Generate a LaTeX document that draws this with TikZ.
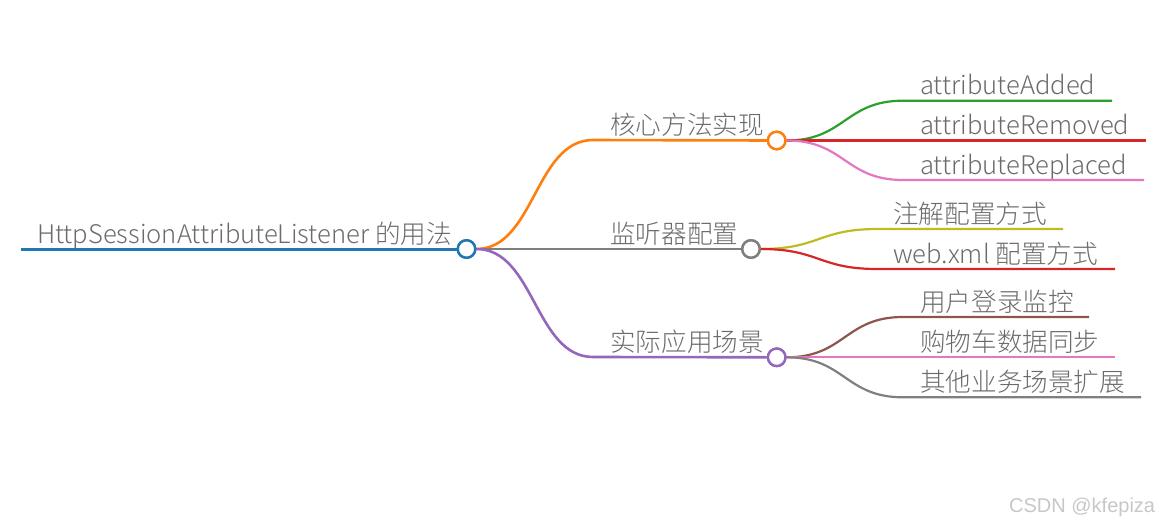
\documentclass[tikz,border=0pt]{standalone}
\usepackage{fontspec}
\setmainfont{Noto Sans CJK SC}[UprightFont={* Light}]
\newfontfamily\wmfont{Liberation Sans}
\definecolor{cblue}{HTML}{1F77B4}
\definecolor{corange}{HTML}{FF7F0E}
\definecolor{cgray}{HTML}{7F7F7F}
\definecolor{cpurple}{HTML}{9467BD}
\definecolor{cgreen}{HTML}{2CA02C}
\definecolor{cred}{HTML}{D62728}
\definecolor{cpink}{HTML}{E377C2}
\definecolor{colive}{HTML}{BCBD22}
\definecolor{cbrown}{HTML}{8C564B}
\definecolor{textgray}{HTML}{6B6B6B}
\begin{document}
\begin{tikzpicture}[x=1pt,y=-1pt,
  b0/.style={line width=3pt},
  b1/.style={line width=2.6pt},
  b2/.style={line width=2.2pt},
  dot/.style={circle, draw, line width=2.4pt, fill=white, minimum size=17.5pt, inner sep=0pt},
  lbl/.style={anchor=base west, text=textgray, font=\fontsize{25.6}{26}\selectfont, inner sep=0pt},
  lk/.style={to path={.. controls +(58,0) and +(-58,0) .. (\tikztotarget)}}]
\useasboundingbox (0,0) rectangle (1165,527);
% root
\coordinate (r0) at (21,249);
\node[lbl] (rt) at (37,243) {HttpSessionAttributeListener 的用法};
\node[dot, draw=cblue] (rc) at (466.5,249) {};
\draw[b0, cblue] (r0) -- (rc.west);
% level 1
\coordinate (a0) at (593,140);
\node[lbl] (at) at (610,134) {核心方法实现};
\node[dot, draw=corange] (ac) at (776.7,140.5) {};
\coordinate (b0) at (593,249);
\node[lbl] (bt) at (610,243) {监听器配置};
\node[dot, draw=cgray] (bc) at (751,249) {};
\coordinate (c0) at (593,357);
\node[lbl] (ct) at (610,351) {实际应用场景};
\node[dot, draw=cpurple] (cc) at (776.7,357.3) {};
% level 2 (a)
\coordinate (a1s) at (903,100.7); \coordinate (a1e) at (1112,100.7);
\node[lbl] (a1t) at (920,95) {attributeAdded};
\coordinate (a2s) at (903,140.5); \coordinate (a2e) at (1146,140.5);
\node[lbl] (a2t) at (920,134.5) {attributeRemoved};
\coordinate (a3s) at (903,180); \coordinate (a3e) at (1144,180);
\node[lbl] (a3t) at (920,174) {attributeReplaced};
% level 2 (b)
\coordinate (b1s) at (877,229); \coordinate (b1e) at (1063,229);
\node[lbl] (b1t) at (893,223) {注解配置方式};
\coordinate (b2s) at (877,269); \coordinate (b2e) at (1115,269);
\node[lbl] (b2t) at (893,263) {web.xml 配置方式};
% level 2 (c)
\coordinate (c1s) at (903,317); \coordinate (c1e) at (1089,317);
\node[lbl] (c1t) at (920,311) {用户登录监控};
\coordinate (c2s) at (903,357.3); \coordinate (c2e) at (1115,357.3);
\node[lbl] (c2t) at (920,351.3) {购物车数据同步};
\coordinate (c3s) at (903,397.3); \coordinate (c3e) at (1141,397.3);
\node[lbl] (c3t) at (920,391.3) {其他业务场景扩展};
% connectors
\draw[b2, cgreen] (ac.east) to[lk] (a1s) -- (a1e);
\draw[b2, cred] (ac.east) to[lk] (a2s) -- (a2e);
\draw[b2, cpink] (ac.east) to[lk] (a3s) -- (a3e);
\draw[b2, colive] (bc.east) to[lk] (b1s) -- (b1e);
\draw[b2, cred] (bc.east) to[lk] (b2s) -- (b2e);
\draw[b2, cbrown] (cc.east) to[lk] (c1s) -- (c1e);
\draw[b2, cpink] (cc.east) to[lk] (c2s) -- (c2e);
\draw[b2, cgray] (cc.east) to[lk] (c3s) -- (c3e);
\draw[b1, corange] (rc.east) to[lk] (a0) -- (ac.west);
\draw[b1, cgray] (rc.east) to[lk] (b0) -- (bc.west);
\draw[b1, cpurple] (rc.east) to[lk] (c0) -- (cc.west);
% redraw circles on top
\node[dot, draw=cblue] at (rc) {};
\node[dot, draw=corange] at (ac) {};
\node[dot, draw=cgray] at (bc) {};
\node[dot, draw=cpurple] at (cc) {};
% watermark
\node[anchor=base west, inner sep=0pt, text=black!22, font=\wmfont\fontsize{20}{20}\selectfont] (wm) at (1009,512) {CSDN @kfepiza};
\end{tikzpicture}
\end{document}
